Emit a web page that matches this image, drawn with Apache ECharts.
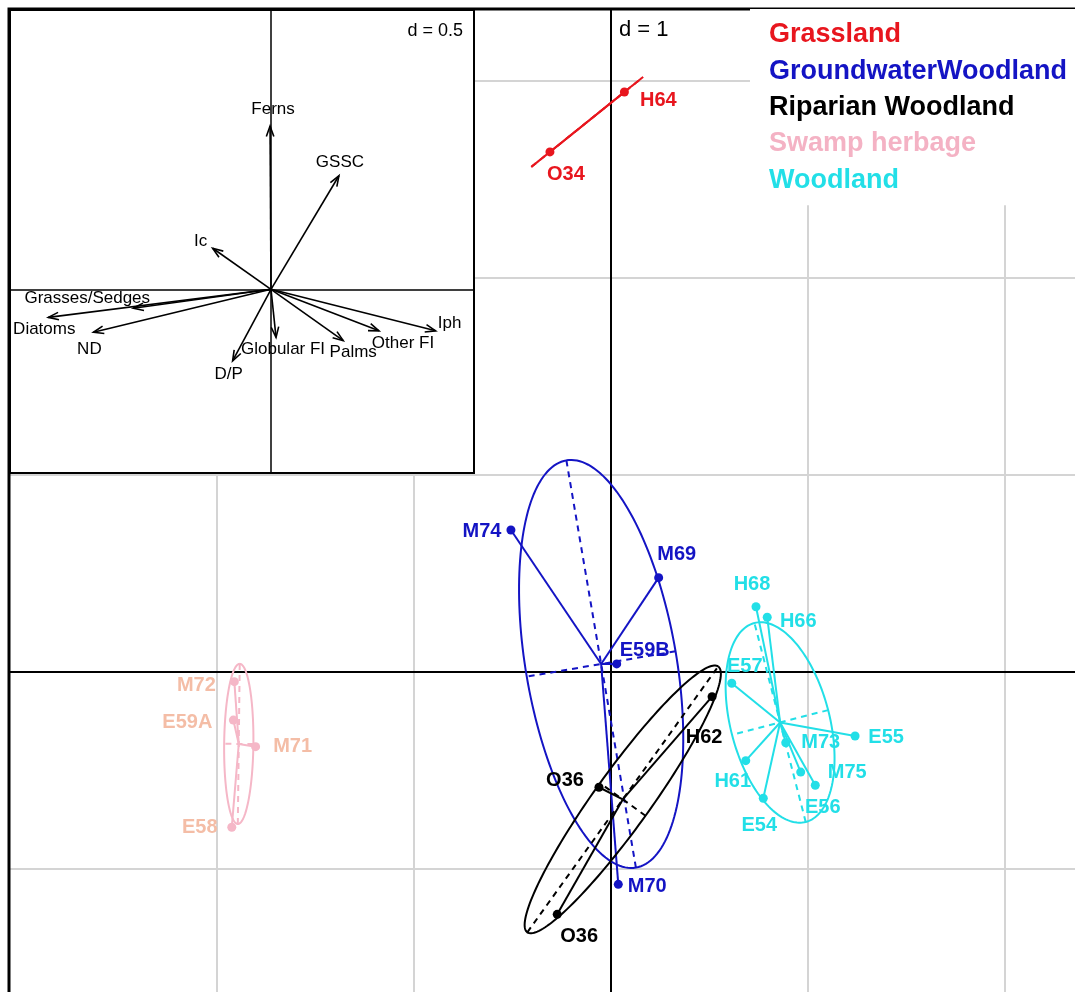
<!DOCTYPE html>
<html>
<head>
<meta charset="utf-8">
<script src="https://cdn.jsdelivr.net/npm/echarts@6/dist/echarts.min.js"></script>
<style>
  html, body { margin: 0; padding: 0; background: #fff; }
  #chart { width: 1075px; height: 992px; }
</style>
</head>
<body>
<div id="chart"></div>
<script>
// ---- Sample scores on axes 1 and 2, one set of arrays per habitat class ----
const grasslandNames = ['H64', 'O34'];
const grasslandX = [0.068, -0.310];
const grasslandY = [2.944, 2.640];

const groundwaterNames = ['M74', 'M69', 'E59B', 'M70'];
const groundwaterX = [-0.508, 0.242, 0.029, 0.037];
const groundwaterY = [0.721, 0.479, 0.041, -1.078];

const riparianNames = ['O36', 'H62', 'O36'];
const riparianX = [-0.061, 0.513, -0.273];
const riparianY = [-0.585, -0.125, -1.230];

const swampNames = ['M72', 'E59A', 'M71', 'E58'];
const swampX = [-1.912, -1.917, -1.804, -1.925];
const swampY = [-0.049, -0.244, -0.379, -0.788];

const woodlandNames = ['H68', 'H66', 'E57', 'E55', 'M73', 'M75', 'E56', 'H61', 'E54'];
const woodlandX = [0.736, 0.793, 0.613, 1.239, 0.887, 1.037, 0.963, 0.684, 0.773];
const woodlandY = [0.331, 0.278, -0.057, -0.325, -0.359, -0.575, -0.508, -0.450, -0.641];

// ---- Variable loadings (arrows of the inset) ----
const varNames = ['Ferns', 'GSSC', 'Ic', 'Grasses/Sedges', 'Diatoms', 'ND', 'D/P', 'Globular FI', 'Palms', 'Other FI', 'Iph'];
const varX = [-0.004, 0.283, -0.243, -0.574, -0.928, -0.740, -0.160, 0.021, 0.301, 0.450, 0.686];
const varY = [0.680, 0.473, 0.171, -0.079, -0.117, -0.179, -0.298, -0.200, -0.214, -0.173, -0.173];

// ---- Grid line positions of the main plane (d = 1) ----
const gridLinesX = [-2, -1, 1, 2];
const gridLinesY = [-1, 1, 2, 3];

// ---- Styling ----
const FONT = '"Liberation Sans", Arial, Helvetica, sans-serif';
const classes = [
  { name: 'Grassland', names: grasslandNames, x: grasslandX, y: grasslandY,
    color: '#E8161E', labelColor: '#E8161E', legendColor: '#E8161E',
    offsets: [[34, 8], [16, 23]] },
  { name: 'GroundwaterWoodland', names: groundwaterNames, x: groundwaterX, y: groundwaterY,
    color: '#1414C4', labelColor: '#1414C4', legendColor: '#1414C4',
    offsets: [[-29, 2], [18, -23], [28, -13], [29, 2]] },
  { name: 'Riparian Woodland', names: riparianNames, x: riparianX, y: riparianY,
    color: '#000000', labelColor: '#000000', legendColor: '#000000',
    offsets: [[-34, -7], [-8, 41], [22, 22]] },
  { name: 'Swamp herbage', names: swampNames, x: swampX, y: swampY,
    color: '#F5B7C7', labelColor: '#F4BDA6', legendColor: '#F4B2C4',
    offsets: [[-38, 4], [-46, 2], [37, 0], [-32, 0]] },
  { name: 'Woodland', names: woodlandNames, x: woodlandX, y: woodlandY,
    color: '#22DFE7', labelColor: '#22DFE7', legendColor: '#22DFE7',
    offsets: [[-4, -22], [31, 4], [13, -17], [31, 1], [35, 0], [32, -13], [22, 35], [-13, 21], [-4, 27]] }
];
// label offsets (px) of the arrow names, measured from each arrow tip
const varLabelOffsets = [[3, -17], [1, -13], [-12, -7], [-46, -10], [-4, 12], [-4, 17], [-4, 13], [7, 12], [10, 12], [24, 12], [14, -8]];

// Main plane: 197 px per unit, origin at (611, 672), frame starting at (9, 9)
const UNIT = 197, OX = 611, OY = 672, FX = 9, FY = 9, FW = 1100, FH = 1100;
const mainX = { min: (FX - OX) / UNIT, max: (FX + FW - OX) / UNIT };
const mainY = { min: (OY - (FY + FH)) / UNIT, max: (OY - FY) / UNIT };

// Inset: 240 px per unit, origin at (271, 289.3)
const IU = 240, IOX = 271, IOY = 289.3, IX = 10, IY = 10, IW = 464, IH = 463;
const insetX = { min: (IX - IOX) / IU, max: (IX + IW - IOX) / IU };
const insetY = { min: (IOY - (IY + IH)) / IU, max: (IOY - IY) / IU };

// Class centroid and 1.5-sd inertia ellipse (population covariance)
function classStats(xs, ys) {
  const n = xs.length;
  const mx = xs.reduce((a, b) => a + b, 0) / n;
  const my = ys.reduce((a, b) => a + b, 0) / n;
  let vxx = 0, vyy = 0, vxy = 0;
  for (let i = 0; i < n; i++) {
    const dx = xs[i] - mx, dy = ys[i] - my;
    vxx += dx * dx; vyy += dy * dy; vxy += dx * dy;
  }
  vxx /= n; vyy /= n; vxy /= n;
  const half = (vxx + vyy) / 2;
  const disc = Math.sqrt(Math.max(half * half - (vxx * vyy - vxy * vxy), 0));
  const l1 = half + disc, l2 = Math.max(half - disc, 0);
  let ux, uy;
  if (Math.abs(vxy) > 1e-12) { ux = vxy; uy = l1 - vxx; }
  else if (vxx >= vyy) { ux = 1; uy = 0; } else { ux = 0; uy = 1; }
  const len = Math.hypot(ux, uy);
  ux /= len; uy /= len;
  return { mx, my, ux, uy, vx: -uy, vy: ux, a: 1.5 * Math.sqrt(l1), b: 1.5 * Math.sqrt(l2) };
}

const series = [];

// grid lines of the main plane
series.push({
  type: 'custom', name: 'grid', silent: true, z: 1,
  xAxisIndex: 0, yAxisIndex: 0,
  data: gridLinesX.map(v => [v, 0]).concat(gridLinesY.map(v => [0, v])),
  renderItem: function (params, api) {
    const cs = params.coordSys;
    const i = params.dataIndex;
    let shape;
    if (i < gridLinesX.length) {
      const px = api.coord([api.value(0), 0])[0];
      shape = { x1: px, y1: cs.y, x2: px, y2: cs.y + cs.height };
    } else {
      const py = api.coord([0, api.value(1)])[1];
      shape = { x1: cs.x, y1: py, x2: cs.x + cs.width, y2: py };
    }
    return { type: 'line', shape: shape, style: { stroke: '#D4D4D4', lineWidth: 2 } };
  }
});

classes.forEach(function (c) {
  const st = classStats(c.x, c.y);
  // ellipse, its axes and the star joining each sample to the class centroid
  series.push({
    type: 'custom', name: c.name, silent: true, z: 3,
    xAxisIndex: 0, yAxisIndex: 0,
    data: c.x.map((v, i) => [v, c.y[i]]),
    renderItem: function (params, api) {
      const ctr = api.coord([st.mx, st.my]);
      const p = api.coord([api.value(0), api.value(1)]);
      const children = [{
        type: 'line', shape: { x1: ctr[0], y1: ctr[1], x2: p[0], y2: p[1] },
        style: { stroke: c.color, lineWidth: 2 }
      }];
      if (params.dataIndex === 0) {
        const pts = [];
        for (let k = 0; k <= 180; k++) {
          const t = 2 * Math.PI * k / 180;
          const ca = st.a * Math.cos(t), sb = st.b * Math.sin(t);
          pts.push(api.coord([st.mx + ca * st.ux + sb * st.vx, st.my + ca * st.uy + sb * st.vy]));
        }
        children.push({ type: 'polyline', shape: { points: pts },
          style: { stroke: c.color, fill: null, lineWidth: 2 } });
        const a1 = api.coord([st.mx - st.a * st.ux, st.my - st.a * st.uy]);
        const a2 = api.coord([st.mx + st.a * st.ux, st.my + st.a * st.uy]);
        const b1 = api.coord([st.mx - st.b * st.vx, st.my - st.b * st.vy]);
        const b2 = api.coord([st.mx + st.b * st.vx, st.my + st.b * st.vy]);
        const dash = { stroke: c.color, lineWidth: 2, lineDash: [6, 5] };
        children.push({ type: 'line', shape: { x1: a1[0], y1: a1[1], x2: a2[0], y2: a2[1] }, style: dash });
        children.push({ type: 'line', shape: { x1: b1[0], y1: b1[1], x2: b2[0], y2: b2[1] }, style: dash });
      }
      return { type: 'group', children: children };
    }
  });
  // sample points with their names
  series.push({
    type: 'scatter', name: c.name, silent: true, z: 4,
    xAxisIndex: 0, yAxisIndex: 0,
    symbol: 'circle', symbolSize: 9,
    itemStyle: { color: c.color, opacity: 1 },
    data: c.names.map((n, i) => ({
      name: n, value: [c.x[i], c.y[i]],
      label: { offset: c.offsets[i] }
    })),
    label: {
      show: true, position: 'inside', formatter: '{b}',
      color: c.labelColor, fontFamily: FONT, fontWeight: 'bold', fontSize: 20
    }
  });
});

// arrows of the inset correlation plane
series.push({
  type: 'custom', name: 'variables', silent: true, z: 7,
  xAxisIndex: 1, yAxisIndex: 1,
  data: varX.map((v, i) => [v, varY[i]]),
  renderItem: function (params, api) {
    const i = params.dataIndex;
    const o = api.coord([0, 0]);
    const t = api.coord([api.value(0), api.value(1)]);
    const ang = Math.atan2(t[1] - o[1], t[0] - o[0]);
    const L = 11, phi = 20 * Math.PI / 180;
    const w1 = [t[0] - L * Math.cos(ang - phi), t[1] - L * Math.sin(ang - phi)];
    const w2 = [t[0] - L * Math.cos(ang + phi), t[1] - L * Math.sin(ang + phi)];
    const stroke = { stroke: '#000', lineWidth: 1.6 };
    const off = varLabelOffsets[i];
    return {
      type: 'group',
      children: [
        { type: 'line', shape: { x1: o[0], y1: o[1], x2: t[0], y2: t[1] }, style: stroke },
        { type: 'polyline', shape: { points: [w1, t, w2] }, style: Object.assign({ fill: null }, stroke) },
        { type: 'text', x: t[0] + off[0], y: t[1] + off[1],
          style: { text: varNames[i], fill: '#000', font: '17px ' + FONT, align: 'center', verticalAlign: 'middle' } }
      ]
    };
  }
});

const chart = echarts.init(document.getElementById('chart'), null, { renderer: 'canvas' });
chart.setOption({
  animation: false,
  backgroundColor: '#fff',
  grid: [
    { left: FX, top: FY, width: FW, height: FH, show: true, z: 3,
      outerBoundsMode: 'none', containLabel: false,
      backgroundColor: 'transparent', borderColor: '#000', borderWidth: 3 },
    { left: IX, top: IY, width: IW, height: IH, show: true, z: 5,
      outerBoundsMode: 'none', containLabel: false,
      backgroundColor: '#fff', borderColor: '#000', borderWidth: 2 }
  ],
  xAxis: [
    { type: 'value', gridIndex: 0, min: mainX.min, max: mainX.max, z: 2,
      axisLine: { show: true, onZero: true, lineStyle: { color: '#000', width: 2 } },
      axisTick: { show: false }, axisLabel: { show: false }, splitLine: { show: false } },
    { type: 'value', gridIndex: 1, min: insetX.min, max: insetX.max, z: 6,
      axisLine: { show: true, onZero: true, lineStyle: { color: '#000', width: 1.5 } },
      axisTick: { show: false }, axisLabel: { show: false }, splitLine: { show: false } }
  ],
  yAxis: [
    { type: 'value', gridIndex: 0, min: mainY.min, max: mainY.max, z: 2,
      axisLine: { show: true, onZero: true, lineStyle: { color: '#000', width: 2 } },
      axisTick: { show: false }, axisLabel: { show: false }, splitLine: { show: false } },
    { type: 'value', gridIndex: 1, min: insetY.min, max: insetY.max, z: 6,
      axisLine: { show: true, onZero: true, lineStyle: { color: '#000', width: 1.5 } },
      axisTick: { show: false }, axisLabel: { show: false }, splitLine: { show: false } }
  ],
  legend: {
    show: true, orient: 'vertical', left: 750, top: FY, z: 6,
    padding: [11, 40, 10, 14], itemGap: 6.3,
    itemWidth: 0, itemHeight: 0, icon: 'rect',
    backgroundColor: '#fff', selectedMode: false,
    textStyle: { fontFamily: FONT, fontWeight: 'bold', fontSize: 27, lineHeight: 30 },
    data: classes.map(c => ({ name: c.name, textStyle: { color: c.legendColor } }))
  },
  graphic: [
    { type: 'text', x: 619, y: 30, z: 10, silent: true,
      style: { text: 'd = 1', fill: '#000', font: '22px ' + FONT, verticalAlign: 'middle' } },
    { type: 'text', x: 463, y: 31, z: 10, silent: true,
      style: { text: 'd = 0.5', fill: '#000', font: '18px ' + FONT, align: 'right', verticalAlign: 'middle' } }
  ],
  series: series
});
</script>
</body>
</html>
